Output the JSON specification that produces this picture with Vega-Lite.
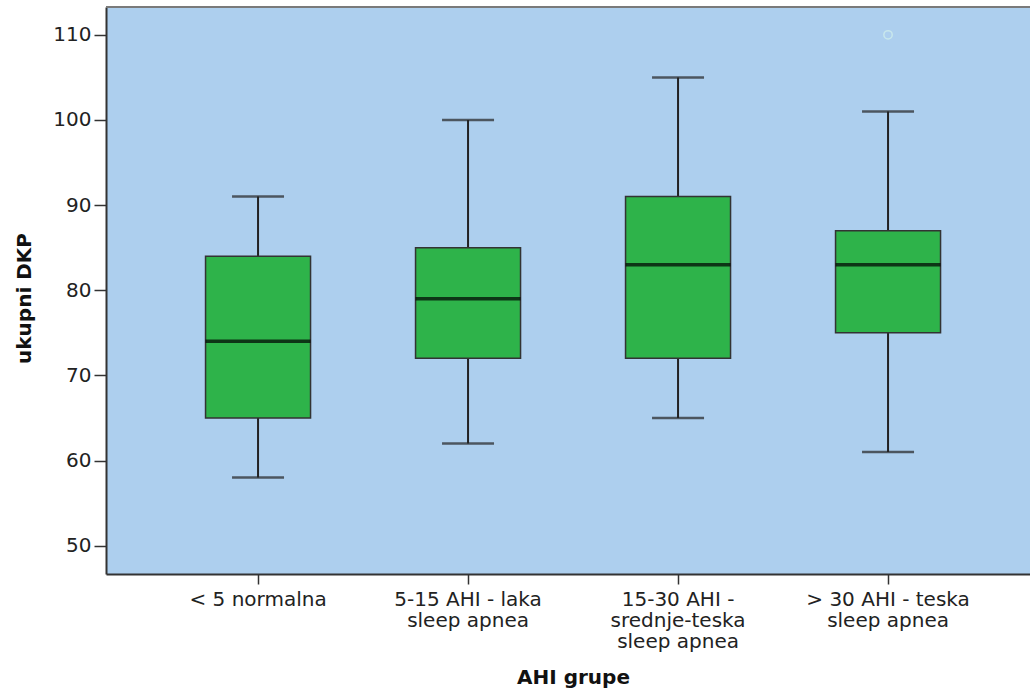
{
  "$schema": "https://vega.github.io/schema/vega-lite/v6.json",
  "autosize": "none",
  "padding": {"left": 106, "top": 7, "right": 0, "bottom": 116},
  "width": 924,
  "height": 567,
  "background": "white",
  "config": {
    "font": "DejaVu Sans",
    "view": {"fill": "#ADCFEE", "stroke": null},
    "axis": {
      "grid": false,
      "domainColor": "#333333",
      "domainWidth": 2,
      "tickColor": "#333333",
      "tickWidth": 1.5,
      "labelFont": "DejaVu Sans",
      "labelFontSize": 20,
      "labelColor": "#222222",
      "titleFont": "DejaVu Sans",
      "titleFontSize": 20,
      "titleFontWeight": "bold",
      "titleColor": "#111111"
    }
  },
  "data": {
    "values": [
      {"group": "< 5 normalna", "lo": 58, "q1": 65, "med": 74, "q3": 84, "hi": 91},
      {"group": "5-15 AHI - laka|sleep apnea", "lo": 62, "q1": 72, "med": 79, "q3": 85, "hi": 100},
      {"group": "15-30 AHI -|srednje-teska|sleep apnea", "lo": 65, "q1": 72, "med": 83, "q3": 91, "hi": 105},
      {"group": "> 30 AHI - teska|sleep apnea", "lo": 61, "q1": 75, "med": 83, "q3": 87, "hi": 101}
    ]
  },
  "layer": [
    {
      "data": {"values": [{"top": 113.27}]},
      "mark": {"type": "rule", "color": "#7a7a7a", "strokeWidth": 2},
      "encoding": {"y": {"field": "top", "type": "quantitative"}}
    },
    {
      "mark": {"type": "rule", "color": "#222222", "strokeWidth": 2},
      "encoding": {
        "x": {
          "field": "group",
          "type": "nominal",
          "sort": null,
          "scale": {"type": "band", "paddingInner": 0, "paddingOuter": 0.2, "align": 0.56},
          "axis": {
            "title": "AHI grupe",
            "labelAngle": 0,
            "labelExpr": "split(datum.label, '|')",
            "labelLineHeight": 21,
            "labelPadding": 5,
            "tickSize": 10,
            "titleX": 467,
            "titleY": 109,
            "titleBaseline": "alphabetic",
            "labelLimit": 300
          }
        },
        "y": {
          "field": "lo",
          "type": "quantitative",
          "scale": {"domain": [46.67, 113.27], "nice": false, "zero": false},
          "axis": {
            "title": "ukupni DKP",
            "values": [50, 60, 70, 80, 90, 100, 110],
            "tickSize": 12,
            "labelPadding": 3,
            "titleX": -82,
            "titleY": 291,
            "titleBaseline": "middle"
          }
        },
        "y2": {"field": "hi"}
      }
    },
    {
      "mark": {"type": "tick", "color": "#222222", "thickness": 2.5, "size": 52},
      "encoding": {
        "x": {"field": "group", "type": "nominal", "sort": null},
        "y": {"field": "lo", "type": "quantitative"}
      }
    },
    {
      "mark": {"type": "tick", "color": "#222222", "thickness": 2.5, "size": 52},
      "encoding": {
        "x": {"field": "group", "type": "nominal", "sort": null},
        "y": {"field": "hi", "type": "quantitative"}
      }
    },
    {
      "mark": {"type": "bar", "size": 105, "fill": "#2EB34A", "stroke": "#333333", "strokeWidth": 1.5},
      "encoding": {
        "x": {"field": "group", "type": "nominal", "sort": null},
        "y": {"field": "q1", "type": "quantitative"},
        "y2": {"field": "q3"}
      }
    },
    {
      "mark": {"type": "tick", "color": "#000000", "thickness": 3.5, "size": 105},
      "encoding": {
        "x": {"field": "group", "type": "nominal", "sort": null},
        "y": {"field": "med", "type": "quantitative"}
      }
    },
    {
      "data": {"values": [{"group": "> 30 AHI - teska|sleep apnea", "value": 110}]},
      "mark": {"type": "point", "shape": "circle", "filled": false, "stroke": "#D4F2EC", "strokeWidth": 1.5, "size": 70},
      "encoding": {
        "x": {"field": "group", "type": "nominal", "sort": null},
        "y": {"field": "value", "type": "quantitative"}
      }
    }
  ]
}
